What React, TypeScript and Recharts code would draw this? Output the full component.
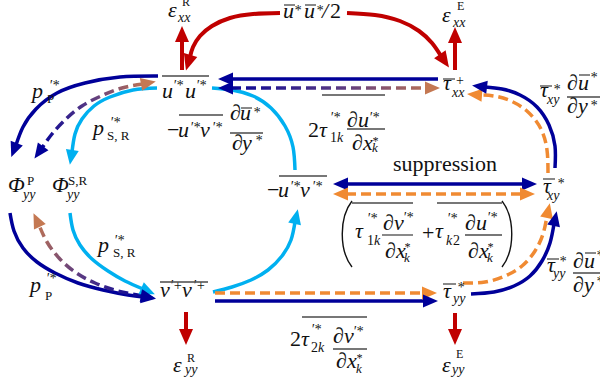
import React from 'react';
import { ComposedChart, Line, Scatter, XAxis, YAxis } from 'recharts';

// ---------- colours ----------
const NAVY = '#000099';
const LBLUE = '#00B0F0';
const RED = '#C00000';
const ORANGE = '#F08A32';
const BROWN = '#C47852';
const PURPLE = '#5A3A82';
const INK = '#111111';
const RULE = '#4a4a4a';
const FONT = '"Liberation Serif", "Times New Roman", serif';

// ---------- arrow paths (diagram units: x 0..600, y 0..385 from the top) ----------
const pathNavyTop = [[438, 79], [231, 79]];
const pathGradTop = [[231, 88], [427, 88]];
const pathNavyTL = [[158, 76], [120, 77], [85, 83], [57, 93], [36, 109], [23, 127], [16, 145]];
const pathGradTL = [[143, 84], [122, 88], [101, 96], [82, 106], [66, 119], [52, 134], [42, 148]];
const pathBlueTL = [[157, 88], [133, 90], [110, 97], [94, 106], [82, 119], [75, 134], [72, 152]];
const pathNavyBL = [[10, 213], [14, 231], [23, 248], [37, 262], [55, 273], [78, 283], [103, 290], [128, 295], [143, 297]];
const pathBlueBL = [[70, 213], [73, 230], [80, 245], [92, 259], [108, 271], [125, 281], [143, 289]];
const pathGradBL = [[143, 296], [118, 291], [95, 283], [75, 272], [59, 258], [47, 242], [39, 225]];
const pathBlueMidUp = [[295, 170], [293, 147], [285, 126], [271, 108], [253, 96], [232, 90], [212, 88]];
const pathBlueMidDown = [[213, 292], [232, 287], [251, 280], [268, 270], [282, 256], [291, 240], [295, 222]];
const pathNavyBottom = [[215, 301], [425, 301]];
const pathOrangeBottom = [[215, 293], [424, 293]];
const pathRedUpL = [[182, 70], [182, 40]];
const pathRedUpR = [[455, 70], [455, 41]];
const pathRedDownL = [[186, 312], [186, 331]];
const pathRedDownR = [[455, 313], [455, 331]];
const pathRedArcL = [[280, 13], [253, 14], [230, 18], [212, 26], [200, 36], [193, 47], [190, 57]];
const pathRedArcR = [[347, 13], [375, 15], [400, 21], [419, 31], [432, 43], [441, 56]];
const pathNavyR1 = [[555, 168], [555, 146], [549, 125], [537, 107], [520, 95], [502, 89], [485, 87]];
const pathOrangeR1 = [[548, 173], [547, 150], [541, 129], [528, 112], [511, 101], [494, 96], [480, 95]];
const pathNavyR2 = [[471, 294], [494, 292], [514, 286], [530, 276], [542, 261], [550, 243], [554, 224]];
const pathOrangeR2 = [[463, 283], [485, 282], [505, 276], [522, 266], [535, 251], [543, 234], [547, 216]];
const pathNavyMid = [[346, 184], [524, 184]];
const pathOrangeMid = [[346, 194], [522, 194]];

// ---------- label anchors ----------
const nodes = [
  { id: 'epsXXR', x: 168, y: 17 },
  { id: 'epsXXE', x: 442, y: 22 },
  { id: 'uubar', x: 283, y: 18 },
  { id: 'uu', x: 162, y: 98 },
  { id: 'tauXX', x: 443, y: 90 },
  { id: 'termTop', x: 308, y: 137 },
  { id: 'prodU', x: 167, y: 137 },
  { id: 'phiP', x: 8, y: 192 },
  { id: 'phiSR', x: 52, y: 192 },
  { id: 'pP1', x: 32, y: 98 },
  { id: 'pSR1', x: 93, y: 135 },
  { id: 'pSR2', x: 98, y: 252 },
  { id: 'pP2', x: 30, y: 292 },
  { id: 'vv', x: 160, y: 297 },
  { id: 'epsYYR', x: 173, y: 372 },
  { id: 'epsYYE', x: 442, y: 372 },
  { id: 'tauYY', x: 443, y: 298 },
  { id: 'termBottom', x: 290, y: 346 },
  { id: 'paren', x: 355, y: 238 },
  { id: 'tauXY', x: 543, y: 193 },
  { id: 'prodXY', x: 540, y: 97 },
  { id: 'prodYY', x: 547, y: 272 },
  { id: 'uv', x: 267, y: 197 },
  { id: 'supp', x: 393, y: 171 },
];

// ---------- glyph layout helpers ----------
type Tok =
  | { k: 't'; s: string; dx: number; dy: number; fs: number; it: boolean }
  | { k: 'l'; x1: number; x2: number; dy: number }
  | { k: 'p'; dx: number; top: number; bot: number; side: number };
const t = (s: string, dx: number, dy: number, fs = 22, it = true): Tok => ({ k: 't', s, dx, dy, fs, it });
const up = (s: string, dx: number, dy: number, fs = 14): Tok => ({ k: 't', s, dx, dy, fs, it: false });
const rl = (x1: number, x2: number, dy: number): Tok => ({ k: 'l', x1, x2, dy });
const par = (dx: number, top: number, bot: number, side: number): Tok => ({ k: 'p', dx, top, bot, side });
const PR = '\u2032*';

const glyphs: Record<string, Tok[]> = {
  epsXXR: [t('ε', 0, 0), t('xx', 10, 5, 14), up('R', 14, -11, 12)],
  epsXXE: [t('ε', 0, 0), t('xx', 11, 5, 14), up('E', 15, -12, 12)],
  uubar: [t('u', 0, 0), t('*', 11, -3, 14), t('u', 21, 0), t('*', 33, -3, 14), t('/', 39, 0, 22), up('2', 47, 0, 22), rl(1, 12, -13), rl(22, 33, -13)],
  uu: [t('u', 0, 0), t(PR, 11, -8, 14), t('u', 23, 0), t(PR, 34, -8, 14), rl(0, 47, -22)],
  tauXX: [t('τ', 0, 0), rl(0, 12, -11), up('+', 13, -5, 14), t('xx', 9, 7, 14)],
  termTop: [
    up('2', 0, 0, 22), t('τ', 11, 0), t(PR, 22, -15, 14), up('1', 22, 5, 14), t('k', 29, 5, 14),
    t('∂', 39, -10), t('u', 50, -10), t(PR, 61, -15, 14), rl(39, 77, -8),
    t('∂', 44, 13), t('x', 55, 13), t('*', 64, 8, 12), t('k', 64, 15, 13),
    rl(14, 77, -42),
  ],
  prodU: [
    up('−', 0, 0, 22), t('u', 11, 0), t(PR, 23, -5, 14), t('v', 33, 0), t(PR, 45, -5, 14), rl(12, 56, -22),
    t('∂', 63, -17), t('u', 73, -17), rl(74, 85, -29), t('*', 86, -20, 14), rl(63, 96, -4),
    t('∂', 65, 13), t('y', 75, 13), t('*', 88, 8, 14),
  ],
  phiP: [t('Φ', 0, 0), up('P', 19, -7, 13), t('yy', 15, 7, 14)],
  phiSR: [t('Φ', 0, 0), up('S,R', 16, -7, 13), t('yy', 15, 7, 14)],
  pP1: [t('p', 0, 0), t(PR, 17, -8, 14), up('P', 15, 5, 13)],
  pSR1: [t('p', 0, 0), t(PR, 17, -8, 14), up('S, R', 14, 5, 13)],
  pSR2: [t('p', 0, 0), t(PR, 16, -7, 14), up('S, R', 15, 5, 13)],
  pP2: [t('p', 0, 0), t(PR, 16, -9, 14), up('P', 15, 8, 13)],
  vv: [t('v', 0, 0), t('\u2032+', 10, -7, 14), t('v', 22, 0), t('\u2032+', 33, -7, 14), rl(0, 48, -15)],
  epsYYR: [t('ε', 0, 0), up('R', 14, -10, 12), t('yy', 12, 2, 14)],
  epsYYE: [t('ε', 0, 0), up('E', 14, -14, 12), t('yy', 10, 2, 14)],
  tauYY: [t('τ', 0, 0), rl(0, 13, -14), t('*', 14, -6, 14), t('yy', 10, 5, 14)],
  termBottom: [
    up('2', 0, 0, 22), t('τ', 11, 0), t(PR, 21, -12, 14), up('2', 21, 6, 14), t('k', 28, 6, 14),
    t('∂', 43, -3), t('v', 54, -3), t(PR, 63, -10, 14), rl(43, 77, 3),
    t('∂', 46, 22), t('x', 57, 22), t('*', 66, 16, 12), t('k', 66, 27, 13),
    rl(12, 77, -29),
  ],
  paren: [
    t('τ', 0, 0), t(PR, 12, -15, 14), up('1', 12, 7, 14), t('k', 19, 7, 14),
    t('∂', 28, -8), t('v', 39, -8), t(PR, 48, -16, 14), rl(27, 58, -3),
    t('∂', 30, 20), t('x', 41, 20), t('*', 49, 13, 12), t('k', 49, 24, 13),
    up('+', 67, 2, 22),
    t('τ', 80, 0), t(PR, 92, -15, 14), t('k', 91, 7, 14), up('2', 98, 7, 14),
    t('∂', 110, -8), t('u', 121, -8), t(PR, 132, -16, 14), rl(110, 147, -3),
    t('∂', 113, 20), t('x', 124, 20), t('*', 132, 13, 12), t('k', 132, 24, 13),
    rl(-3, 58, -35), rl(82, 147, -35),
    par(-3, -37, 29, -1), par(147, -37, 29, 1),
  ],
  tauXY: [t('τ', 0, 0), rl(0, 12, -14), t('*', 14, -5, 14), t('xy', 4, 7, 14)],
  prodXY: [
    t('τ', 0, 0), rl(0, 12, -11), t('*', 13, -3, 14), t('xy', 7, 7, 14),
    t('∂', 27, -7), t('u', 38, -7), rl(39, 50, -22), t('*', 50, -15, 14), rl(27, 68, 0),
    t('∂', 27, 16), t('y', 38, 16), t('*', 50, 13, 14),
  ],
  prodYY: [
    t('τ', 0, 0), rl(0, 12, -13), t('*', 12, -6, 14), t('yy', 6, 6, 14),
    t('∂', 26, -4), t('u', 37, -4), rl(38, 49, -19), t('*', 49, -12, 14), rl(26, 66, 1),
    t('∂', 26, 20), t('y', 37, 20), t('*', 49, 14, 14),
  ],
  uv: [up('−', 0, 0, 22), t('u', 11, 0), t(PR, 23, -6, 14), t('v', 33, 0), t(PR, 45, -6, 14), rl(12, 60, -21)],
  supp: [up('suppression', 0, 0, 22)],
};

// ---------- arrows ----------
type Arrow = { id: string; d: number[][]; stroke: string; w?: number; dash?: string; start?: string; end?: string; big?: boolean };
const arrows: Arrow[] = [
  { id: 'blueMidUp', d: pathBlueMidUp, stroke: LBLUE },
  { id: 'blueMidDown', d: pathBlueMidDown, stroke: LBLUE, end: LBLUE },
  { id: 'blueTL', d: pathBlueTL, stroke: LBLUE, end: LBLUE },
  { id: 'blueBL', d: pathBlueBL, stroke: LBLUE, end: LBLUE },
  { id: 'navyTop', d: pathNavyTop, stroke: NAVY, end: NAVY },
  { id: 'gradTop', d: pathGradTop, stroke: 'url(#gradTop)', dash: '10 5', start: NAVY, end: BROWN },
  { id: 'navyTL', d: pathNavyTL, stroke: NAVY, end: NAVY },
  { id: 'gradTL', d: pathGradTL, stroke: 'url(#gradTL)', dash: '10 5', start: BROWN, end: NAVY },
  { id: 'navyBL', d: pathNavyBL, stroke: NAVY, end: NAVY },
  { id: 'gradBL', d: pathGradBL, stroke: 'url(#gradBL)', dash: '10 5', start: NAVY, end: BROWN },
  { id: 'orangeBottom', d: pathOrangeBottom, stroke: ORANGE, dash: '10 5', end: ORANGE },
  { id: 'navyBottom', d: pathNavyBottom, stroke: NAVY, end: NAVY },
  { id: 'navyMid', d: pathNavyMid, stroke: NAVY, start: NAVY, end: NAVY },
  { id: 'orangeMid', d: pathOrangeMid, stroke: ORANGE, dash: '10 5', start: ORANGE, end: ORANGE },
  { id: 'orangeR1', d: pathOrangeR1, stroke: ORANGE, dash: '10 5', end: ORANGE },
  { id: 'navyR1', d: pathNavyR1, stroke: NAVY, end: NAVY },
  { id: 'orangeR2', d: pathOrangeR2, stroke: ORANGE, dash: '10 5', end: ORANGE },
  { id: 'navyR2', d: pathNavyR2, stroke: NAVY, end: NAVY },
  { id: 'redUpL', d: pathRedUpL, stroke: RED, w: 4, end: RED, big: true },
  { id: 'redUpR', d: pathRedUpR, stroke: RED, w: 4, end: RED, big: true },
  { id: 'redDownL', d: pathRedDownL, stroke: RED, w: 4, end: RED, big: true },
  { id: 'redDownR', d: pathRedDownR, stroke: RED, w: 4, end: RED, big: true },
  { id: 'redArcL', d: pathRedArcL, stroke: RED, w: 4, end: RED, big: true },
  { id: 'redArcR', d: pathRedArcR, stroke: RED, w: 4, end: RED, big: true },
];

const toPts = (d: number[][]) => d.map(([x, y]) => ({ x, y }));

function head(key: string, base: { x: number; y: number }, prev: { x: number; y: number }, color: string, big?: boolean) {
  const L = big ? 14 : 13;
  const H = big ? 7 : 6.5;
  let ux = base.x - prev.x;
  let uy = base.y - prev.y;
  const n = Math.hypot(ux, uy) || 1;
  ux /= n;
  uy /= n;
  const tipX = base.x + ux * L;
  const tipY = base.y + uy * L;
  const bx = base.x - ux * 2;
  const by = base.y - uy * 2;
  const pts = `${tipX},${tipY} ${bx - uy * H},${by + ux * H} ${bx + uy * H},${by - ux * H}`;
  return <polygon key={key} points={pts} fill={color} stroke="none" />;
}

const makeDot = (a: Arrow) => (props: any) => {
  const { index } = props;
  const n = a.d.length;
  const key = `${a.id}-dot-${index}`;
  const pp = Array.isArray(props.points) && props.points.length === n ? props.points : null;
  const get = (i: number) => (pp ? { x: pp[i].x, y: pp[i].y } : { x: a.d[i][0], y: a.d[i][1] });
  if (index === n - 1 && a.end) return head(key, get(n - 1), get(n - 2), a.end, a.big);
  if (index === 0 && a.start) return head(key, get(0), get(1), a.start, a.big);
  return <g key={key} />;
};

const renderLabel = (p: any) => {
  const cx = p.cx;
  const cy = p.cy;
  const id = p.payload.id as string;
  const toks = glyphs[id] || [];
  return (
    <g key={`lab-${id}`}>
      {toks.map((tk, i) => {
        if (tk.k === 't') {
          return (
            <text key={i} x={cx + tk.dx} y={cy + tk.dy} fontSize={tk.fs} fontStyle={tk.it ? 'italic' : 'normal'} fontFamily={FONT} fill={INK} style={{ whiteSpace: 'pre' }}>
              {tk.s}
            </text>
          );
        }
        if (tk.k === 'l') {
          return <line key={i} x1={cx + tk.x1} x2={cx + tk.x2} y1={cy + tk.dy} y2={cy + tk.dy} stroke={RULE} strokeWidth={1.3} />;
        }
        const x0 = cx + tk.dx;
        const y0 = cy + tk.top;
        const y1 = cy + tk.bot;
        const bulge = tk.side * 13;
        const h = y1 - y0;
        const d = `M ${x0} ${y0} C ${x0 + bulge} ${y0 + h * 0.25}, ${x0 + bulge} ${y0 + h * 0.75}, ${x0} ${y1}`;
        return <path key={i} d={d} fill="none" stroke={INK} strokeWidth={1.4} />;
      })}
    </g>
  );
};

export default function App() {
  return (
    <div style={{ position: 'absolute', left: 0, top: 0, width: 600, height: 385, background: '#ffffff' }}>
      <ComposedChart width={600} height={385} margin={{ top: 0, right: 0, bottom: 0, left: 0 }}>
        <defs>
          <linearGradient id="gradTop" gradientUnits="userSpaceOnUse" x1={218} y1={88} x2={440} y2={88}>
            <stop offset="0" stopColor={NAVY} />
            <stop offset="0.55" stopColor={PURPLE} />
            <stop offset="1" stopColor={BROWN} />
          </linearGradient>
          <linearGradient id="gradTL" gradientUnits="userSpaceOnUse" x1={150} y1={84} x2={38} y2={152}>
            <stop offset="0" stopColor={BROWN} />
            <stop offset="0.45" stopColor={PURPLE} />
            <stop offset="1" stopColor={NAVY} />
          </linearGradient>
          <linearGradient id="gradBL" gradientUnits="userSpaceOnUse" x1={150} y1={297} x2={36} y2={218}>
            <stop offset="0" stopColor={NAVY} />
            <stop offset="0.5" stopColor={PURPLE} />
            <stop offset="1" stopColor={BROWN} />
          </linearGradient>
        </defs>
        <XAxis type="number" dataKey="x" domain={[0, 600]} allowDataOverflow hide />
        <YAxis type="number" dataKey="y" domain={[0, 385]} allowDataOverflow reversed hide />
        {arrows.map((a) => (
          <Line
            key={a.id}
            data={toPts(a.d)}
            dataKey="y"
            type={a.d.length > 2 ? 'natural' : 'linear'}
            stroke={a.stroke}
            strokeWidth={a.w ?? 3.5}
            strokeDasharray={a.dash}
            dot={makeDot(a)}
            activeDot={false}
            isAnimationActive={false}
            legendType="none"
          />
        ))}
        <Scatter data={nodes} dataKey="y" shape={renderLabel} isAnimationActive={false} legendType="none" />
      </ComposedChart>
    </div>
  );
}
